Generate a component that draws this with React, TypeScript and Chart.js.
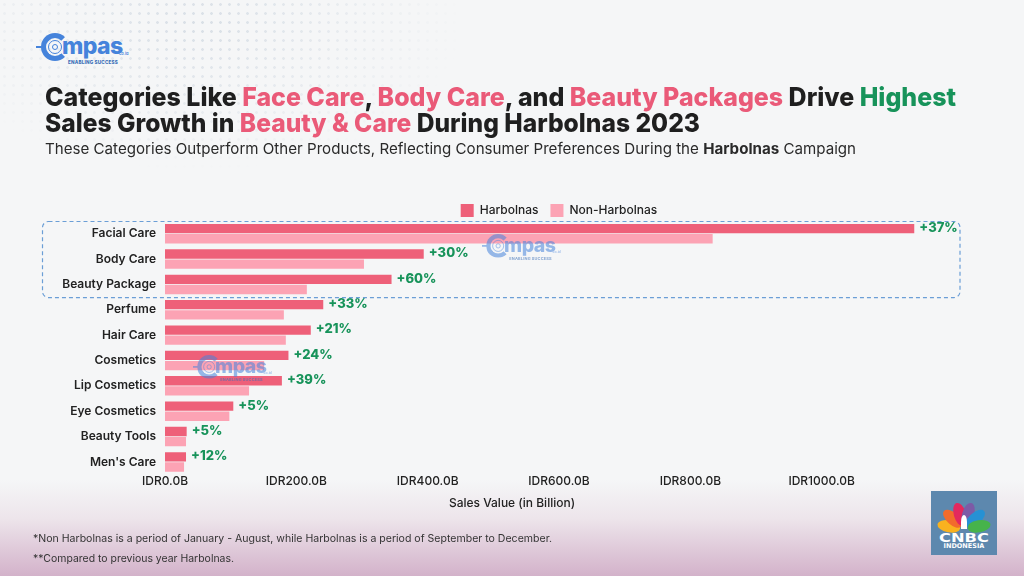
import React, { useEffect, useLayoutEffect, useRef } from "react";
import { Chart, registerables } from "chart.js";

Chart.register(...registerables);

// ---------- data ----------
const categories = [
  "Facial Care",
  "Body Care",
  "Beauty Package",
  "Perfume",
  "Hair Care",
  "Cosmetics",
  "Lip Cosmetics",
  "Eye Cosmetics",
  "Beauty Tools",
  "Men's Care",
];
const harbolnas = [1141, 394, 345, 241, 222, 188, 178, 104, 33, 32];
const nonHarbolnas = [834, 303, 216, 181, 184, 151, 128, 98, 32, 29];
const growthLabels = ["+37%", "+30%", "+60%", "+33%", "+21%", "+24%", "+39%", "+5%", "+5%", "+12%"];
const seriesNames = ["Harbolnas", "Non-Harbolnas"];
const xTickValues = [0, 200, 400, 600, 800, 1000];
const highlightedCount = 3;

// ---------- style ----------
const H_COLOR = "#EE6079";
const NH_COLOR = "#FCA3B4";
const GREEN = "#17935A";
const PINK = "#EA5A78";
const DARK = "#1F1F1F";
const FONT = "Inter, 'Open Sans', sans-serif";

Chart.defaults.font.family = FONT;

const annotPlugin = {
  id: "annot",
  afterDatasetsDraw(chart: any) {
    const ctx = chart.ctx;
    const meta = chart.getDatasetMeta(0);
    ctx.save();
    ctx.font = `800 13px ${FONT}`;
    ctx.fillStyle = GREEN;
    ctx.textBaseline = "middle";
    ctx.textAlign = "left";
    meta.data.forEach((bar: any, i: number) => {
      ctx.fillText(growthLabels[i], bar.x + 5, bar.y - 0.5);
    });
    // dashed highlight box around top categories
    const ys = chart.scales.y;
    const step = ys.getPixelForValue(1) - ys.getPixelForValue(0);
    const top = ys.getPixelForValue(0) - step / 2;
    const bottom = ys.getPixelForValue(highlightedCount - 1) + step / 2;
    const left = chart.chartArea.left - 122.5;
    const right = chart.chartArea.right + 7;
    ctx.setLineDash([4, 3]);
    ctx.strokeStyle = "#6B9ED6";
    ctx.lineWidth = 1.2;
    ctx.beginPath();
    ctx.roundRect(left, top + 0.5, right - left, bottom - top, 6);
    ctx.stroke();
    ctx.restore();
  },
};

function FitLine(props: { left: number; top: number; width: number; style?: React.CSSProperties; children: React.ReactNode }) {
  const ref = useRef<HTMLDivElement>(null);
  useLayoutEffect(() => {
    const fit = () => {
      const el = ref.current;
      if (!el) return;
      el.style.transform = "none";
      const w = el.getBoundingClientRect().width;
      if (w > 0) el.style.transform = `scaleX(${props.width / w})`;
    };
    fit();
    (document as any).fonts?.ready?.then(fit);
  });
  return (
    <div
      ref={ref}
      style={{
        position: "absolute",
        left: props.left,
        top: props.top,
        whiteSpace: "nowrap",
        transformOrigin: "0 0",
        display: "inline-block",
        ...props.style,
      }}
    >
      {props.children}
    </div>
  );
}

function CompasLogo(p: { x: number; y: number; s: number; opacity: number }) {
  const blue = "#4583DB";
  return (
    <div style={{ position: "absolute", left: p.x, top: p.y, width: 100, height: 34, transform: `scale(${p.s})`, transformOrigin: "0 0", opacity: p.opacity, pointerEvents: "none" }}>
      <div style={{ position: "absolute", left: 0, top: 13, width: 9, height: 2, background: blue }} />
      <div style={{ position: "absolute", left: 5, top: 0, width: 28, height: 28, boxSizing: "border-box", borderRadius: "50%", border: `5px solid ${blue}`, borderRightColor: "transparent", transform: "rotate(0deg)" }} />
      <div style={{ position: "absolute", left: 12, top: 7, width: 14, height: 14, borderRadius: "50%", border: `1.6px solid ${blue}`, boxSizing: "border-box" }} />
      <div style={{ position: "absolute", left: 16, top: 11, width: 6, height: 6, borderRadius: "50%", border: `1.4px solid ${blue}`, boxSizing: "border-box" }} />
      <div style={{ position: "absolute", left: 26, top: 2, font: `800 23px ${FONT}`, color: blue, letterSpacing: -0.6, lineHeight: "23px" }}>mpas</div>
      <div style={{ position: "absolute", left: 83, top: 18, font: `600 4px ${FONT}`, color: blue }}>co.id</div>
      <div style={{ position: "absolute", left: 32, top: 27, font: `800 4.6px ${FONT}`, color: "#3A6FB8", letterSpacing: 0.2, whiteSpace: "nowrap" }}>ENABLING SUCCESS</div>
    </div>
  );
}

function CnbcLogo() {
  const feathers = ["#F9B21F", "#F26B2C", "#E3285E", "#7D5BA6", "#2691D4", "#46B34B"];
  return (
    <div style={{ position: "absolute", left: 931, top: 491, width: 66, height: 64, background: "#5D88AE", overflow: "hidden" }}>
      <div style={{ position: "absolute", left: 33, top: 38, width: 0, height: 0 }}>
        {feathers.map((c, i) => {
          const ang = -80 + i * 32;
          return (
            <div
              key={i}
              style={{
                position: "absolute",
                left: -6,
                top: -27,
                width: 12,
                height: 23,
                borderRadius: "50% 50% 45% 45%",
                background: c,
                transformOrigin: "50% 117%",
                transform: `rotate(${ang}deg)`,
              }}
            />
          );
        })}
        <div style={{ position: "absolute", left: -3, top: -14, width: 6, height: 14, background: "#fff", borderRadius: "50% 50% 0 0" }} />
      </div>
      <div style={{ position: "absolute", left: 0, right: 0, top: 40, textAlign: "center", color: "#fff", font: "bold 13px 'DejaVu Sans'", lineHeight: "13px", transform: "scaleX(1.25)" }}>CNBC</div>
      <div style={{ position: "absolute", left: 0, right: 0, top: 52, textAlign: "center", color: "#fff", font: "bold 6.5px 'DejaVu Sans'", lineHeight: "7px" }}>INDONESIA</div>
    </div>
  );
}

export default function App() {
  const canvasRef = useRef<HTMLCanvasElement>(null);

  useEffect(() => {
    const c = canvasRef.current;
    if (!c) return;
    const chart = new Chart(c, {
      type: "bar",
      data: {
        labels: categories,
        datasets: [
          { label: seriesNames[0], data: harbolnas, backgroundColor: H_COLOR, categoryPercentage: 0.8, barPercentage: 0.92 },
          { label: seriesNames[1], data: nonHarbolnas, backgroundColor: NH_COLOR, categoryPercentage: 0.8, barPercentage: 0.92 },
        ],
      },
      options: {
        indexAxis: "y",
        responsive: false,
        animation: false,
        layout: { padding: { top: 192, left: 40, right: 71, bottom: 87 } },
        plugins: {
          legend: {
            position: "top",
            fullSize: false,
            maxHeight: 29,
            labels: { boxWidth: 13, boxHeight: 13, padding: 12, color: "#222", font: { size: 12, weight: 500 } },
          },
          tooltip: { enabled: false },
        },
        scales: {
          x: {
            min: 0,
            max: 1200,
            grid: { display: false, drawTicks: false },
            border: { display: false },
            ticks: {
              stepSize: 200,
              padding: 0,
              color: "#222",
              font: { size: 12, weight: 500 },
              callback: (v: any) => (xTickValues.includes(Number(v)) ? `IDR${Number(v).toFixed(1)}B` : ""),
            },
          },
          y: {
            grid: { display: false, drawTicks: false },
            border: { display: false },
            ticks: { padding: 9, color: "#222", font: { size: 12, weight: 600 } },
            afterFit: (s: any) => {
              s.width = 125;
            },
          },
        },
      } as any,
      plugins: [annotPlugin],
    });
    return () => chart.destroy();
  }, []);

  return (
    <div style={{ position: "absolute", left: 0, top: 0, width: 1024, height: 576, overflow: "hidden", background: "#F5F6F7", fontFamily: FONT }}>
      {/* dotted pattern */}
      <div
        style={{
          position: "absolute",
          left: 0,
          top: 0,
          width: 560,
          height: 260,
          backgroundImage: "radial-gradient(circle, #D5DCE4 1.1px, transparent 1.6px)",
          backgroundSize: "9px 9px",
          WebkitMaskImage: "radial-gradient(ellipse 60% 70% at 35% 10%, rgba(0,0,0,0.9), transparent 80%)",
          maskImage: "radial-gradient(ellipse 60% 70% at 35% 10%, rgba(0,0,0,0.9), transparent 80%)",
        }}
      />
      {/* bottom gradient */}
      <div style={{ position: "absolute", left: 0, top: 480, width: 1024, height: 96, background: "linear-gradient(to bottom, rgba(245,246,247,0), #EDE5EB 40%, #D3B2CA)" }} />

      <CompasLogo x={36} y={33} s={1} opacity={1} />

      <FitLine left={45} top={84} width={911} style={{ font: `800 26px ${FONT}`, lineHeight: "26px", color: DARK }}>
        Categories Like <span style={{ color: PINK }}>Face Care</span>, <span style={{ color: PINK }}>Body Care</span>, and{" "}
        <span style={{ color: PINK }}>Beauty Packages</span> Drive <span style={{ color: GREEN }}>Highest</span>
      </FitLine>
      <FitLine left={45} top={110} width={655} style={{ font: `800 26px ${FONT}`, lineHeight: "26px", color: DARK }}>
        Sales Growth in <span style={{ color: PINK }}>Beauty &amp; Care</span> During Harbolnas 2023
      </FitLine>
      <FitLine left={45} top={141} width={811} style={{ font: `400 15px ${FONT}`, lineHeight: "15px", color: "#2A2A2A" }}>
        These Categories Outperform Other Products, Reflecting Consumer Preferences During the <b>Harbolnas</b> Campaign
      </FitLine>

      <canvas ref={canvasRef} width={1024} height={576} style={{ position: "absolute", left: 0, top: 0, display: "block" }} />

      <CompasLogo x={482} y={234} s={0.85} opacity={0.55} />
      <CompasLogo x={193} y={355} s={0.85} opacity={0.55} />

      <div style={{ position: "absolute", left: 0, width: 1024, top: 496, textAlign: "center", font: `500 12px ${FONT}`, lineHeight: "14px", color: "#222" }}>
        Sales Value (in Billion)
      </div>

      <FitLine left={33} top={533} width={519} style={{ font: `400 10.5px ${FONT}`, lineHeight: "12px", color: "#333" }}>
        *Non Harbolnas is a period of January - August, while Harbolnas is a period of September to December.
      </FitLine>
      <FitLine left={33} top={553} width={201} style={{ font: `400 10.5px ${FONT}`, lineHeight: "12px", color: "#333" }}>
        **Compared to previous year Harbolnas.
      </FitLine>

      <CnbcLogo />
    </div>
  );
}
